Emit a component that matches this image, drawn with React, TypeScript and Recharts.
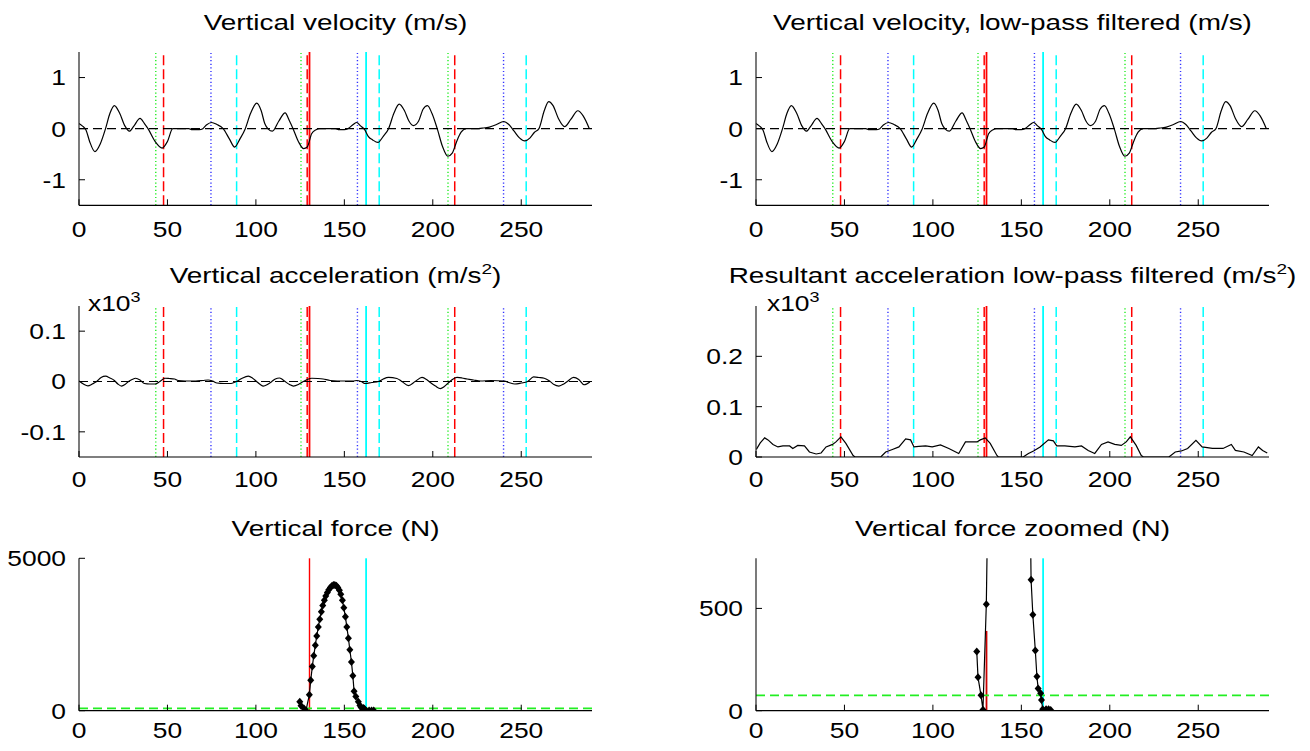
import React from 'react';
import { LineChart, Line, XAxis, YAxis, ReferenceLine } from 'recharts';

// ---------- axis settings ----------
const X_MAX = 290;
const X_TICKS = [0, 50, 100, 150, 200, 250];
const VEL_TICKS = [-1, 0, 1];
const ACC_TICKS = [-0.1, 0, 0.1];
const RES_TICKS = [0, 0.1, 0.2];
const FORCE_TICKS = [0, 5000];
const FORCE_ZOOM_TICKS = [0, 500];

// ---------- event markers (x positions) ----------
const greenDotted = [43.4, 125.5, 208.6];
const redDashed = [47.8, 129, 212.4];
const blueDotted = [74.6, 157.4, 240];
const cyanDashed = [89.1, 169.7, 252.8];
const redSolid = [130.3];
const cyanSolid = [162.3];
const forceThreshold = 75;
const redZoomTop = 390;

// ---------- vertical velocity (m/s) ----------
const velX = [0, 2, 4, 6, 9, 12, 15, 17.5, 20, 23, 26, 28.5, 31, 34.5, 37, 39, 43, 47, 50, 53, 56, 62, 64, 68, 70, 72, 75, 78, 81.5, 85, 88, 91, 94, 97, 100.5, 103, 105, 107, 109.3, 113, 116.5, 119, 121, 124, 127, 129, 131.5, 134, 136, 145, 147, 150, 152, 155, 157, 159, 161.5, 163.5, 166, 169, 172, 175, 178, 181, 184, 186.5, 189, 192, 194.5, 197, 199.5, 202.5, 205.5, 208.5, 211, 213.5, 216, 219, 224, 228, 232, 236, 240, 243, 246, 249, 252, 255, 257.5, 260, 263, 265.5, 268, 271, 274.5, 278, 282, 285, 288.5];
const velY = [0.1, 0.05, -0.03, -0.25, -0.45, -0.3, 0, 0.3, 0.45, 0.3, 0.05, -0.05, 0.05, 0.2, 0.1, 0, -0.25, -0.38, -0.25, 0, 0, 0, -0.02, -0.02, 0, 0.07, 0.12, 0.08, 0, -0.2, -0.36, -0.2, 0, 0.3, 0.5, 0.35, 0.1, -0.01, -0.05, 0.15, 0.31, 0.15, 0, -0.25, -0.39, -0.36, -0.1, -0.02, 0, 0, -0.02, -0.02, 0, 0.08, 0.12, 0.06, -0.02, -0.15, -0.22, -0.27, -0.15, 0, 0.3, 0.48, 0.35, 0.15, 0.06, 0.15, 0.38, 0.45, 0.3, 0, -0.35, -0.54, -0.48, -0.25, -0.07, 0, 0, 0.01, 0.03, 0.08, 0.14, 0.08, -0.05, -0.18, -0.24, -0.18, -0.07, 0, 0.35, 0.53, 0.45, 0.2, 0.04, 0.18, 0.35, 0.25, 0];
// low-pass filtered velocity (visually identical to the raw one)
const velFiltY = [0.1, 0.05, -0.03, -0.25, -0.45, -0.3, 0, 0.3, 0.45, 0.3, 0.05, -0.05, 0.05, 0.2, 0.1, 0, -0.25, -0.38, -0.25, 0, 0, 0, -0.02, -0.02, 0, 0.07, 0.12, 0.08, 0, -0.2, -0.36, -0.2, 0, 0.3, 0.5, 0.35, 0.1, -0.01, -0.05, 0.15, 0.31, 0.15, 0, -0.25, -0.39, -0.36, -0.1, -0.02, 0, 0, -0.02, -0.02, 0, 0.08, 0.12, 0.06, -0.02, -0.15, -0.22, -0.27, -0.15, 0, 0.3, 0.48, 0.35, 0.15, 0.06, 0.15, 0.38, 0.45, 0.3, 0, -0.35, -0.54, -0.48, -0.25, -0.07, 0, 0, 0.01, 0.03, 0.08, 0.14, 0.08, -0.05, -0.18, -0.24, -0.18, -0.07, 0, 0.35, 0.53, 0.45, 0.2, 0.04, 0.18, 0.35, 0.25, 0];

// ---------- vertical acceleration (x10^3 m/s^2) ----------
const accX = [0, 2.5, 5, 7.5, 10, 12.5, 15, 17.5, 20, 22, 24, 26, 28, 30, 32, 34.5, 37, 40, 43, 45.7, 48.5, 51, 54, 56, 60, 66, 70, 73, 75.5, 78, 82, 86, 89, 92, 95.7, 98, 100.4, 102.5, 104.2, 106.5, 109, 111, 113.3, 115, 116.5, 119, 121.2, 124, 126.8, 129, 131.6, 135, 138, 142, 150, 155, 157, 159.5, 161.8, 165.5, 169.3, 172, 175, 179.7, 182.5, 186.3, 190, 193.9, 196.5, 198.6, 201.5, 204.3, 206.5, 209, 211.5, 213.7, 216.5, 219.4, 223, 227, 233, 240.5, 243, 246.4, 250, 253.6, 257, 260, 263, 266, 268.5, 271.3, 274, 276, 279.6, 282.5, 285.5, 288.8];
const accY = [0.001, -0.005, -0.0087, -0.005, 0, 0.008, 0.0105, 0.007, 0.002, -0.005, -0.009, -0.006, 0, 0.004, 0.0065, 0.003, -0.004, -0.005, -0.005, 0, 0.0065, 0.006, 0.005, 0.002, 0.001, 0.001, 0.002, 0.003, 0.001, -0.003, -0.004, -0.004, 0, 0.006, 0.0105, 0.007, 0, -0.006, -0.009, -0.006, 0, 0.005, 0.007, 0.004, 0, -0.006, -0.009, -0.006, 0, 0.004, 0.0065, 0.006, 0.005, 0.002, 0.001, 0.001, 0.002, 0, -0.004, -0.002, 0, 0.005, 0.008, 0.006, 0, -0.008, 0, 0.008, 0.004, -0.002, -0.009, -0.014, -0.01, -0.002, 0.005, 0.008, 0.007, 0.005, 0.003, 0.001, 0.002, 0.001, -0.002, -0.005, -0.003, 0, 0.009, 0.008, 0.0065, 0.001, -0.006, -0.009, -0.005, 0, 0.008, 0.004, -0.0065, -0.001];

// ---------- resultant acceleration, low-pass filtered (x10^3 m/s^2) ----------
const resX = [0.2, 2.4, 4.9, 6.8, 9.6, 12.4, 15.2, 19, 20.8, 23.6, 27.4, 30.2, 34, 36.8, 39.6, 43.3, 45.2, 48, 50.8, 54.9, 56, 70.5, 73.3, 77.1, 80.8, 84.6, 87.4, 89.3, 92.1, 95.9, 99.6, 104.3, 109, 114.6, 118.4, 124.9, 126.8, 129.6, 132.4, 136.2, 137, 151, 154, 156.9, 160.6, 165.3, 168.1, 170, 174.6, 180.3, 184, 187.8, 191.5, 195.3, 199, 202.8, 206.5, 209.3, 211.6, 214.9, 217.8, 219, 233.4, 237, 240.5, 244, 248.7, 252.2, 258, 264, 268.7, 271, 275.8, 280.5, 284, 286.4, 289];
const resY = [0.015, 0.028, 0.038, 0.034, 0.025, 0.02, 0.022, 0.022, 0.017, 0.023, 0.022, 0.01, 0.006, 0.008, 0.02, 0.025, 0.03, 0.04, 0.027, 0.003, 0, 0, 0.01, 0.015, 0.02, 0.036, 0.034, 0.02, 0.021, 0.022, 0.02, 0.024, 0.017, 0.007, 0.03, 0.03, 0.034, 0.038, 0.027, 0.003, 0, 0, 0.007, 0.012, 0.02, 0.034, 0.032, 0.022, 0.022, 0.02, 0.022, 0.013, 0.007, 0.025, 0.03, 0.025, 0.023, 0.03, 0.04, 0.023, 0.003, 0, 0, 0.01, 0.012, 0.017, 0.033, 0.02, 0.017, 0.017, 0.025, 0.013, 0.01, 0.003, 0.02, 0.013, 0.008];

// ---------- vertical force (N) ----------
const forceX = [124.8, 125.5, 127.2, 128.3, 130.2, 131.0, 131.9, 132.7, 133.6, 134.4, 135.3, 136.1, 137.0, 137.8, 138.7, 139.5, 140.4, 141.2, 142.1, 142.9, 143.8, 144.6, 145.5, 146.3, 147.2, 148.0, 148.9, 149.7, 150.6, 151.4, 152.3, 153.1, 154.0, 154.8, 155.5, 156.5, 157.9, 158.8, 159.5, 160.9, 161.4, 162.1, 164.0, 165.4, 166.6];
const forceY = [290, 163, 75, 5, 520, 1000, 1450, 1800, 2150, 2450, 2750, 3000, 3250, 3450, 3620, 3760, 3880, 3970, 4040, 4090, 4120, 4125, 4100, 4040, 3950, 3820, 3620, 3380, 3080, 2750, 2380, 2000, 1600, 1150, 640, 469, 294, 167, 109, 85, 52, 7, 7, 7, 3];

const toRows = (xs: number[], ys: number[]) => xs.map((x, i) => ({ x, y: ys[i] }));

const FONT = '"Liberation Sans", Arial, Helvetica, sans-serif';
const TICK_FS = 22;
const TXT_SX = 1.2;
const TITLE_FS = 22;
const TITLE_SX = 1.27;
const Y_LABEL_GAP = 13;

const makeXTick = (off: number) => (props: any) => {
  const { x, y, payload } = props;
  return (
    <g>
      <line x1={x} x2={x} y1={y} y2={y - 6} stroke="#000" strokeWidth={1} />
      <text transform={`translate(${x},${y + off}) scale(${TXT_SX},1)`} textAnchor="middle" fontSize={TICK_FS} fontFamily={FONT} fill="#000">
        {payload.value}
      </text>
    </g>
  );
};

const YTick = (props: any) => {
  const { x, y, payload } = props;
  return (
    <g>
      <line x1={x} x2={x + 6} y1={y} y2={y} stroke="#000" strokeWidth={1} />
      <text transform={`translate(${x - Y_LABEL_GAP},${y}) scale(${TXT_SX},1)`} textAnchor="end" dy="0.36em" fontSize={TICK_FS} fontFamily={FONT} fill="#000">
        {String(payload.value)}
      </text>
    </g>
  );
};

const eventLines = (withRed = true) => [
  ...greenDotted.map((v) => <ReferenceLine key={`g${v}`} x={v} stroke="#22ee22" strokeDasharray="1.2 2.4" strokeWidth={1.4} />),
  ...blueDotted.map((v) => <ReferenceLine key={`b${v}`} x={v} stroke="#3333ff" strokeDasharray="1.2 2.4" strokeWidth={1.4} />),
  ...redDashed.map((v) => <ReferenceLine key={`r${v}`} x={v} stroke="#ff0000" strokeDasharray="10 4" strokeWidth={1.5} />),
  ...cyanDashed.map((v) => <ReferenceLine key={`c${v}`} x={v} stroke="#00ffff" strokeDasharray="10 4" strokeWidth={1.5} />),
  ...(withRed ? redSolid.map((v) => <ReferenceLine key={`rs${v}`} x={v} stroke="#ff0000" strokeWidth={1.8} />) : []),
  ...cyanSolid.map((v) => <ReferenceLine key={`cs${v}`} x={v} stroke="#00ffff" strokeWidth={1.8} />),
];

const diamond = (props: any) => {
  const { cx, cy, index } = props;
  if (cx == null || cy == null) return <g key={`e${index}`} />;
  return <path key={`d${index}`} d={`M${cx},${cy - 4}L${cx + 3.5},${cy}L${cx},${cy + 4}L${cx - 3.5},${cy}Z`} fill="#000" />;
};

type PanelProps = {
  left: number;
  top: number;
  height: number;
  yAxisWidth: number;
  rightMargin: number;
  topMargin: number;
  xAxisHeight: number;
  tickOff: number;
  domain: [number, number];
  yTicks: number[];
  children: React.ReactNode;
};

const PLOT_W = 513;

function Panel(p: PanelProps) {
  return (
    <div style={{ position: 'absolute', left: p.left, top: p.top, width: 655, height: p.height }}>
      <LineChart width={655} height={p.height} margin={{ top: p.topMargin, right: p.rightMargin, left: 0, bottom: 0 }}>
        <XAxis
          type="number"
          dataKey="x"
          domain={[0, X_MAX]}
          ticks={X_TICKS}
          interval={0}
          allowDataOverflow
          height={p.xAxisHeight}
          tickLine={false}
          tickSize={0}
          tickMargin={0}
          axisLine={{ stroke: '#000', strokeWidth: 1.2 }}
          tick={makeXTick(p.tickOff)}
        />
        <YAxis
          type="number"
          domain={p.domain}
          ticks={p.yTicks}
          interval={0}
          allowDataOverflow
          width={p.yAxisWidth}
          tickLine={false}
          tickSize={0}
          tickMargin={0}
          axisLine={{ stroke: '#222', strokeWidth: 1.2 }}
          tick={YTick}
        />
        {p.children}
      </LineChart>
    </div>
  );
}

const LEFT = { left: 0, yAxisWidth: 79, rightMargin: 655 - 79 - PLOT_W };
const RIGHT = { left: 655, yAxisWidth: 101, rightMargin: 655 - 101 - PLOT_W };
const ROW1 = { top: 0, height: 250, topMargin: 52, xAxisHeight: 44.7, tickOff: 32 };
const ROW2 = { top: 250, height: 250, topMargin: 56, xAxisHeight: 43, tickOff: 30 };
const ROW3 = { top: 500, height: 251, topMargin: 58.3, xAxisHeight: 40.3, tickOff: 27 };

const blackLine = (rows: { x: number; y: number }[], type: 'monotone' | 'linear' = 'monotone') => (
  <Line data={rows} dataKey="y" type={type} stroke="#000" strokeWidth={1.2} dot={false} isAnimationActive={false} />
);

const zeroLine = <ReferenceLine y={0} stroke="#000" strokeDasharray="9 5" strokeWidth={1.2} />;

export default function App() {
  const cxL = 79 + PLOT_W / 2;
  const cxR = 655 + 101 + PLOT_W / 2;
  const titleStyle = { fontSize: TITLE_FS, fontFamily: FONT, fill: '#000' } as const;
  const supStyle = { fontSize: 15 } as const;
  return (
    <div style={{ position: 'absolute', left: 0, top: 0, width: 1310, height: 751, background: '#fff', overflow: 'hidden' }}>
      <Panel {...LEFT} {...ROW1} domain={[-1.5, 1.5]} yTicks={VEL_TICKS}>
        {eventLines()}
        {zeroLine}
        {blackLine(toRows(velX, velY))}
      </Panel>
      <Panel {...RIGHT} {...ROW1} domain={[-1.5, 1.5]} yTicks={VEL_TICKS}>
        {eventLines()}
        {zeroLine}
        {blackLine(toRows(velX, velFiltY))}
      </Panel>
      <Panel {...LEFT} {...ROW2} domain={[-0.15, 0.15]} yTicks={ACC_TICKS}>
        {eventLines()}
        {zeroLine}
        {blackLine(toRows(accX, accY))}
      </Panel>
      <Panel {...RIGHT} {...ROW2} domain={[0, 0.3]} yTicks={RES_TICKS}>
        {eventLines()}
        {blackLine(toRows(resX, resY), 'linear')}
      </Panel>
      <Panel {...LEFT} {...ROW3} domain={[0, 5000]} yTicks={FORCE_TICKS}>
        <ReferenceLine x={redSolid[0]} stroke="#ff0000" strokeWidth={1.4} />
        <ReferenceLine x={cyanSolid[0]} stroke="#00ffff" strokeWidth={1.8} />
        <ReferenceLine y={forceThreshold} stroke="#22ee22" strokeDasharray="9 5" strokeWidth={1.6} />
        <Line data={toRows(forceX, forceY)} dataKey="y" type="linear" stroke="#000" strokeWidth={1.2} dot={diamond} isAnimationActive={false} />
      </Panel>
      <Panel {...RIGHT} {...ROW3} domain={[0, 745]} yTicks={FORCE_ZOOM_TICKS}>
        <ReferenceLine segment={[{ x: redSolid[0], y: 0 }, { x: redSolid[0], y: redZoomTop }]} stroke="#cc0000" strokeWidth={1.8} />
        <ReferenceLine x={cyanSolid[0]} stroke="#00ffff" strokeWidth={1.8} />
        <ReferenceLine y={forceThreshold} stroke="#22ee22" strokeDasharray="9 5" strokeWidth={1.6} />
        <Line data={toRows(forceX, forceY)} dataKey="y" type="linear" stroke="#000" strokeWidth={1.2} dot={diamond} isAnimationActive={false} />
      </Panel>

      <svg width={1310} height={751} style={{ position: 'absolute', left: 0, top: 0, pointerEvents: 'none' }}>
        <text transform={`translate(${cxL},30) scale(${TITLE_SX},1)`} textAnchor="middle" {...titleStyle}>Vertical velocity (m/s)</text>
        <text transform={`translate(${cxR},30) scale(${TITLE_SX},1)`} textAnchor="middle" {...titleStyle}>Vertical velocity, low-pass filtered (m/s)</text>
        <text transform={`translate(${cxL},283) scale(${TITLE_SX},1)`} textAnchor="middle" {...titleStyle}>
          Vertical acceleration (m/s<tspan dy={-9} {...supStyle}>2</tspan><tspan dy={9}>)</tspan>
        </text>
        <text transform={`translate(${cxR},283) scale(${TITLE_SX},1)`} textAnchor="middle" {...titleStyle}>
          Resultant acceleration low-pass filtered (m/s<tspan dy={-9} {...supStyle}>2</tspan><tspan dy={9}>)</tspan>
        </text>
        <text transform={`translate(${cxL},536) scale(${TITLE_SX},1)`} textAnchor="middle" {...titleStyle}>Vertical force (N)</text>
        <text transform={`translate(${cxR},536) scale(${TITLE_SX},1)`} textAnchor="middle" {...titleStyle}>Vertical force zoomed (N)</text>
        <text transform={`translate(88,311) scale(${TXT_SX},1)`} {...titleStyle}>
          x10<tspan dy={-9} {...supStyle}>3</tspan>
        </text>
        <text transform={`translate(767,311) scale(${TXT_SX},1)`} {...titleStyle}>
          x10<tspan dy={-9} {...supStyle}>3</tspan>
        </text>
      </svg>
    </div>
  );
}
